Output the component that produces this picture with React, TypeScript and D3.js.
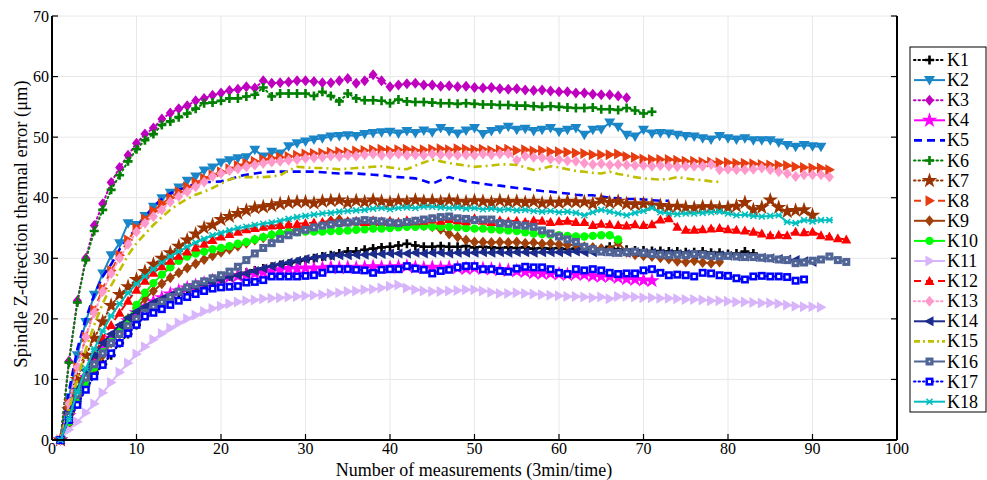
import React, { useEffect, useRef } from 'react';
import * as d3 from 'd3';

// series values, x = 1, 2, 3, ... (measurement number)
const seriesNames = ['K1', 'K2', 'K3', 'K4', 'K5', 'K6', 'K7', 'K8', 'K9', 'K10', 'K11', 'K12', 'K13', 'K14', 'K15', 'K16', 'K17', 'K18'];

const k1 = [0, 3.5, 6.5, 9, 11, 12.5, 14, 16, 17.5, 19, 20.5, 21.5, 22.5, 23.5, 24.3, 25, 25.5, 26, 26.3, 26.6, 27, 27.3, 27.6, 28, 28.3, 28.6, 28.9, 29.1, 29.4, 29.7, 30, 30.3, 30.5, 30.8, 31.1, 31.1, 31.4, 31.6, 31.8, 31.9, 32.1, 32.4, 32.1, 31.9, 31.9, 32, 31.9, 31.9, 32, 31.8, 31.9, 31.8, 31.7, 31.8, 31.7, 31.8, 31.6, 31.7, 31.6, 31.7, 31.5, 31.6, 31.5, 31.6, 31.5, 31.9, 31.5, 31.4, 31.3, 31.3, 31.2, 31.2, 31.1, 31.1, 31, 31, 31.1, 30.9, 30.9, 30.7, 30.8, 31.1, 30.8];
const k2 = [0, 7, 14, 19.5, 24, 27.5, 30.5, 32.5, 35.8, 35.5, 37, 38.5, 39.9, 40.8, 41.7, 42.8, 43.5, 44.5, 45, 45.8, 46.2, 46.5, 46.7, 47.9, 46.8, 47.6, 47.3, 48.5, 49, 49.3, 49.6, 49.8, 50.1, 50.2, 50.3, 50.2, 50.5, 50.7, 50.8, 50.9, 50.6, 51, 50.7, 51.1, 50.8, 51.5, 51, 50.6, 51.1, 51.5, 50.5, 51, 51.3, 51.7, 51.2, 51.4, 51, 51.2, 51.5, 50.9, 51.2, 51.5, 50.4, 51.2, 51.3, 52.4, 51.7, 50.4, 50.1, 51.2, 50.6, 50.7, 50.6, 50.4, 50.2, 50.1, 49.8, 49.6, 50.2, 49.8, 49.6, 49.8, 49.5, 49.5, 49.5, 49.1, 48.7, 48.4, 48.7, 48.5, 48.4];
const k3 = [0, 13, 23, 30, 35.4, 39, 42.5, 45, 47, 49, 50.5, 51.5, 53, 54, 54.7, 55.2, 56, 56.4, 56.9, 57.3, 57.7, 57.9, 58.3, 58.1, 59.3, 58.9, 59, 59.1, 59.3, 59.3, 59.2, 59, 59, 59.3, 59.7, 58.9, 59.3, 60.3, 59.3, 58.3, 58.6, 58.8, 58.9, 58.6, 58.6, 58.4, 58.5, 58.3, 58.4, 58.2, 58.1, 58.2, 58, 57.9, 58, 57.8, 57.7, 57.8, 57.6, 57.5, 57.5, 57.3, 57.3, 57.1, 57, 57, 56.8, 56.5];
const k4 = [0, 4, 7.5, 10.3, 12.8, 15, 16.8, 18.3, 19.7, 21, 22, 22.8, 23.5, 24.1, 24.6, 25.1, 25.5, 25.9, 26.3, 26.6, 26.9, 27.1, 27.3, 27.5, 27.7, 27.9, 28.1, 28.3, 28.3, 28.4, 28.3, 28.4, 28.5, 28.4, 28.5, 28.4, 28.5, 28.6, 28.5, 28.5, 28.6, 28.7, 28.5, 28.4, 28.5, 28.4, 28.5, 28.4, 28.3, 28.4, 28.3, 28.2, 28.1, 28, 27.9, 27.8, 27.6, 27.5, 27.5, 27.4, 27.3, 27.4, 27.3, 27.1, 27, 27, 26.8, 26.6, 26.5, 26.4, 26.3];
const k5 = [0, 8, 15, 20, 24, 27, 29, 31.5, 33.3, 35, 36.8, 38.5, 39.8, 40.7, 41.3, 41.8, 42.3, 42.6, 42.6, 42.7, 43, 43.5, 43.8, 44, 44.2, 44.3, 44.3, 44.3, 44.3, 44.3, 44.3, 44.2, 44.1, 44, 44.1, 44, 43.9, 43.8, 43.7, 43.5, 43.4, 43.3, 43.2, 42.8, 42.3, 42.9, 43.4, 43, 42.7, 42.5, 42.3, 42.1, 42, 41.8, 41.6, 41.5, 41.3, 41.1, 41, 40.8, 40.7, 40.5, 40.4, 40.4, 40.2, 40, 39.9, 39.8, 39.8, 39.7, 39.6, 39.5, 39.5];
const k6 = [0, 12.8, 22.7, 29.7, 34.5, 38, 41.3, 43.7, 46, 48, 49.5, 50.5, 52, 52.6, 53.3, 53.9, 54.7, 55.6, 55.7, 56, 56.4, 56.4, 56.7, 57, 58.2, 56.7, 57.2, 57.2, 57.2, 57.2, 56.8, 57.5, 56.8, 55.9, 57.2, 56.4, 56.1, 56.1, 56, 55.6, 56.2, 55.9, 55.8, 55.8, 55.7, 55.6, 55.6, 55.5, 55.6, 55.5, 55.4, 55.4, 55.3, 55.3, 55.2, 55.2, 55.1, 55, 55.1, 55, 54.9, 54.8, 54.8, 54.9, 54.6, 54.6, 54.5, 54.8, 54.4, 53.9, 54.2];
const k7 = [0, 5, 10, 14, 16.8, 19.5, 22.2, 24, 25.3, 26.5, 27.8, 29, 30, 30.9, 32, 33, 34, 35, 35.5, 36.4, 36.9, 37.4, 37.9, 38.3, 38.5, 38.7, 39, 39.2, 39.3, 39.3, 39.1, 39.4, 39.5, 39.6, 39.2, 39.5, 39.3, 39.6, 39.4, 39.2, 39.5, 39.3, 39.6, 39.4, 39.5, 39.3, 39.6, 39.4, 39.3, 39.5, 39.4, 39.2, 39.5, 39.3, 39.4, 39.2, 39.4, 39.1, 39.3, 39.2, 39.4, 39.3, 39.3, 39, 39.6, 39.2, 39.4, 39, 38.9, 39, 38.8, 38.7, 38.5, 38.6, 38.4, 38.3, 38.5, 38.5, 38.3, 38.4, 38.6, 39.2, 38, 38.4, 39.6, 38.4, 37.7, 37.9, 38, 37.1];
const k8 = [0, 6, 12, 17, 21.5, 25, 28, 30.5, 33, 35, 36.5, 37.8, 39, 40, 41, 41.8, 42.5, 43.2, 43.8, 44.3, 44.8, 45.3, 45.7, 46, 46.3, 46.5, 46.7, 46.8, 47, 47.2, 47.3, 47.4, 47.5, 47.6, 47.5, 47.7, 47.8, 47.9, 48, 47.8, 47.9, 48, 47.8, 47.9, 48, 48.1, 47.9, 48.1, 48, 47.9, 48, 47.8, 47.9, 48, 47.8, 47.9, 47.7, 47.8, 47.6, 47.6, 47.5, 47.4, 47.3, 47.1, 47.1, 47.1, 47.2, 46.8, 46.7, 46.4, 46.3, 46.3, 46.3, 46.2, 46, 46, 45.9, 45.9, 45.8, 45.8, 45.7, 45.7, 45.6, 45.5, 45.4, 45.4, 45.3, 45.1, 45, 44.9, 44.9, 44.6];
const k9 = [0, 2.5, 6, 9, 11.5, 14, 16, 18, 20, 21.8, 23.3, 24.6, 25.8, 26.8, 27.6, 28.4, 29.1, 29.8, 30.4, 31, 31.5, 32, 32.5, 33, 33.4, 33.8, 34.2, 34.5, 34.8, 35, 35.3, 35.6, 36.2, 36.4, 36, 35.8, 35.6, 35.5, 35.6, 35.5, 35.4, 35.5, 35.5, 35.4, 35.2, 34.8, 34, 33.5, 33, 32.7, 32.7, 32.6, 32.7, 32.6, 32.7, 32.5, 32.6, 32.4, 32.5, 32.3, 32.2, 32.2, 31.9, 31.8, 31.6, 31.4, 32.6, 31, 30.6, 30.4, 30.3, 30.1, 29.9, 29.5, 29.4, 29.6, 29.3, 29.2, 29.4];
const k10 = [0, 3, 6.5, 9.5, 12, 14.5, 16.2, 18, 20, 22.3, 24.3, 25.9, 27.3, 28.5, 29.6, 30.3, 30.8, 31.1, 31.5, 31.7, 32, 32.4, 32.7, 33.1, 33.5, 33.9, 34.1, 34.3, 34.3, 34.4, 34.4, 34.4, 34.5, 34.5, 34.6, 34.7, 34.8, 34.9, 34.9, 35, 35.1, 35.2, 35.2, 35.3, 35.2, 35.2, 35.2, 35.1, 35, 34.9, 34.9, 34.8, 34.7, 34.6, 34.5, 34.3, 34.1, 34, 33.9, 33.8, 33.7, 33.6, 33.6, 33.7, 33.8, 33.8, 33.1];
const k11 = [0, 1.7, 3, 4.5, 6, 7.8, 9.5, 11.2, 12.7, 14.2, 15.4, 16.6, 17.6, 18.5, 19.3, 20, 20.6, 21.2, 21.7, 22.1, 22.5, 22.8, 23, 23.1, 23.3, 23.4, 23.5, 23.6, 23.7, 23.8, 23.9, 24, 24.2, 24.3, 24.5, 24.6, 24.8, 24.9, 25.1, 25.4, 25.6, 25.1, 24.8, 24.6, 24.5, 24.5, 24.6, 24.7, 24.8, 24.8, 24.6, 24.4, 24.2, 24.2, 24.3, 24.2, 24.1, 24, 23.9, 23.8, 23.7, 23.7, 23.6, 23.5, 23.6, 23.3, 23.7, 23.7, 23.6, 23.5, 23.5, 23.4, 23.4, 23.3, 23.2, 23.2, 23.1, 23, 23, 22.9, 22.8, 22.8, 22.7, 22.6, 22.6, 22.5, 22.3, 22.1, 22, 22, 21.9];
const k12 = [0, 3.5, 7.5, 11, 14, 16.8, 19, 21, 23, 24.8, 26.3, 27.6, 28.7, 29.6, 30.4, 31.1, 31.8, 32.4, 33, 33.6, 34, 34.4, 34.8, 35, 35.2, 35.4, 35.5, 35.6, 35.7, 35.8, 35.9, 36, 36.2, 36, 36.1, 36.2, 36, 36.3, 36.1, 36.2, 36, 36.3, 36.1, 36.2, 36.4, 36.2, 36.5, 36.3, 36.1, 36.6, 36.2, 36, 36.3, 36.1, 36.2, 36, 36.3, 36.2, 36, 36.1, 36.2, 36, 36, 35.5, 35.7, 35.6, 35.5, 35.4, 35.6, 35.5, 35.6, 36.4, 36.6, 35.2, 34.7, 34.7, 34.8, 34.9, 35, 34.8, 34.7, 34.6, 34.4, 34.1, 33.8, 33.9, 33.8, 34.4, 34.3, 34.4, 33.8, 33.6, 33.3, 33.1];
const k13 = [0, 6, 12, 17, 21, 24.5, 27.5, 30, 32.3, 34.4, 35.8, 36.9, 38, 39.3, 40.2, 41, 41.8, 42.6, 43.5, 44, 44.5, 44.8, 45.1, 45.4, 45.7, 45.9, 46, 46.2, 46.3, 46.5, 46.6, 46.7, 46.9, 46.8, 47, 46.9, 47.1, 47.2, 47, 47.1, 47.2, 47, 47.1, 47, 47.2, 47.1, 47.1, 47, 47.1, 47, 47.2, 47.1, 47.2, 47.3, 46.2, 46.9, 46.7, 46.6, 46.4, 46.3, 46.1, 46, 45.7, 45.5, 45.6, 45.4, 45.5, 45.4, 45.3, 45.3, 45.2, 45.3, 45.2, 45.1, 45.2, 45.2, 45.2, 45.5, 44.6, 44.7, 44.6, 44.6, 44.7, 44.9, 44.6, 44.3, 44, 43.5, 43.8, 43.8, 43.8, 43.4];
const k14 = [0, 4.5, 8.5, 11.5, 14, 16, 17.5, 19, 20.2, 21.2, 22, 22.7, 23.3, 23.9, 24.4, 24.9, 25.3, 25.7, 26.1, 26.5, 26.9, 27.2, 27.5, 27.9, 28.3, 28.7, 29, 29.3, 29.6, 29.9, 30.1, 30.3, 30.4, 30.5, 30.5, 30.6, 30.6, 30.7, 30.7, 30.8, 30.8, 30.8, 30.9, 30.8, 30.9, 30.9, 30.8, 30.9, 30.9, 30.9, 31, 30.9, 31, 30.9, 31, 31, 30.9, 31, 31, 31, 31, 31.1, 31, 31, 31.1, 31, 31, 30.9, 31, 30.9, 30.9, 30.8, 30.8, 30.7, 30.7, 30.6, 30.6, 30.5, 30.5, 30.4, 30.3, 30.3, 30.2, 30.1, 30, 29.9, 29.8, 29.7, 29.5, 29.4];
const k15 = [0, 5, 10, 15, 19, 22.5, 25.5, 28, 30.5, 32.5, 34, 35.5, 36.8, 38, 39, 39.8, 40.5, 41, 41.6, 42.3, 43, 43.4, 43.4, 43.4, 43.4, 43.5, 43.7, 44.5, 45.1, 45, 44.9, 44.9, 44.8, 44.7, 44.8, 44.9, 45, 45.1, 45.2, 45, 44.8, 44.7, 45.3, 45.8, 46.3, 46, 45.7, 45.5, 45.3, 45.1, 45.2, 45.3, 45.5, 45.5, 45.4, 45, 44.6, 44.8, 45.2, 45, 44.7, 44.4, 44.3, 44.1, 44, 44.3, 43.9, 43.7, 43.4, 43.2, 43.1, 43, 43.1, 43.4, 43.2, 43, 42.9, 42.7, 42.6];
const k16 = [0, 4, 7.5, 10.3, 12.5, 14.3, 16, 17.5, 18.8, 20, 21, 22, 22.8, 23.6, 24.5, 25.2, 25.7, 26.2, 26.7, 27.2, 27.8, 28.6, 29.7, 30.8, 31.7, 32.5, 33.2, 33.8, 34.3, 34.7, 35.1, 35.4, 35.6, 35.8, 35.9, 36.1, 36.3, 36.2, 36.1, 35.9, 35.8, 36, 36.2, 36.4, 36.6, 36.8, 36.9, 36.6, 36.5, 36.3, 36.4, 36.4, 35.8, 35.7, 35.5, 35.4, 35.2, 34.6, 34.1, 33.6, 33.1, 32.7, 31.9, 31.5, 31.1, 31, 30.9, 31, 31.1, 30.9, 30.7, 30.6, 30.5, 30.6, 30.5, 30.7, 30.6, 30.4, 30.3, 30.4, 30.3, 30.2, 30.2, 30.1, 30, 29.8, 29.7, 29.2, 29.3, 29.6, 29.8, 30.3, 29.7, 29.4];
const k17 = [0, 3.3, 5.8, 8.3, 10.5, 12.4, 14.3, 16, 17.6, 19, 20.4, 21, 21.6, 22.3, 23, 23.6, 24.1, 24.6, 25, 25.2, 25.3, 25.4, 26, 26.1, 26.4, 27, 27, 27, 27, 27.1, 27.2, 27.6, 28.2, 28.2, 28.2, 28.1, 28, 27.6, 28.1, 28.2, 28.2, 28.7, 28.3, 28.1, 27.5, 27.9, 28.1, 28.5, 28.7, 28.7, 28.2, 28.2, 27.9, 27.8, 28.3, 28.6, 28.5, 28.5, 28.2, 27.6, 27.4, 28.2, 28, 28.2, 28, 27.6, 27.4, 27.5, 27.5, 28, 28.2, 27.6, 27.2, 27.3, 27.2, 27, 27.6, 27.5, 27.2, 27.1, 26.7, 26.5, 27, 27.1, 27, 27, 26.9, 26.3, 26.5];
const k18 = [0, 3.5, 8, 11.8, 15, 18, 20.5, 22.5, 24.3, 25.8, 27, 28.2, 29.3, 30.3, 31.1, 31.9, 32.6, 33.2, 33.8, 34.2, 34.6, 35, 35.2, 35.5, 35.7, 35.9, 36.2, 36.5, 36.8, 37, 37.2, 37.4, 37.5, 37.7, 37.8, 37.9, 38, 38.2, 38.3, 38.1, 38.3, 38.4, 38.3, 38.5, 38.5, 38.4, 38.3, 38.4, 38.2, 38.3, 38.1, 38.2, 38, 38.1, 37.9, 38, 37.8, 37.7, 37.8, 37.6, 37.7, 37.5, 37.1, 37.6, 38, 37.7, 37.4, 37.1, 37.5, 37.8, 38.3, 37.6, 37.4, 37.3, 37.4, 37.4, 37.5, 37.6, 37.7, 37.4, 37.1, 37.2, 37, 36.9, 37, 37.1, 36, 35.8, 36.3, 36.1, 36.3, 36.3];

const seriesValues = [k1, k2, k3, k4, k5, k6, k7, k8, k9, k10, k11, k12, k13, k14, k15, k16, k17, k18];

const xTicks = [0, 10, 20, 30, 40, 50, 60, 70, 80, 90, 100];
const yTicks = [0, 10, 20, 30, 40, 50, 60, 70];

// line colour, dash pattern and marker kind for each series
const seriesStyles = [
  { color: '#000000', dash: '1.5,3', marker: 'plus' },
  { color: '#1a86c8', dash: null, marker: 'down' },
  { color: '#bf00bf', dash: '1.5,3', marker: 'diamond' },
  { color: '#ff00ff', dash: null, marker: 'star' },
  { color: '#0000ff', dash: '8,5', marker: null },
  { color: '#008000', dash: '1.5,3', marker: 'plus' },
  { color: '#993300', dash: '1.5,3', marker: 'star' },
  { color: '#e63c10', dash: '7,5', marker: 'right' },
  { color: '#a0400a', dash: null, marker: 'diamond' },
  { color: '#00ff00', dash: null, marker: 'circle' },
  { color: '#d8b4fa', dash: null, marker: 'right' },
  { color: '#ff0000', dash: '7,5', marker: 'up' },
  { color: '#ff99cc', dash: '1.5,3', marker: 'diamond' },
  { color: '#1c2c8c', dash: null, marker: 'left' },
  { color: '#bfbf00', dash: '8,4,2,4', marker: null },
  { color: '#506496', dash: null, marker: 'square' },
  { color: '#0000ff', dash: '1.5,3', marker: 'squareHollow' },
  { color: '#00bfbf', dash: null, marker: 'asterisk' },
];

const FONT = '"Liberation Serif", "Times New Roman", serif';

function drawMarker(g, kind, color, x, y) {
  const t = `translate(${x},${y})`;
  switch (kind) {
    case 'plus':
      g.append('path').attr('transform', t)
        .attr('d', 'M-4.5,0L4.5,0M0,-4.5L0,4.5')
        .attr('stroke', color).attr('stroke-width', 2.6).attr('fill', 'none');
      break;
    case 'down':
      g.append('path').attr('transform', t).attr('d', 'M-5.5,-4L5.5,-4L0,5.5Z').attr('fill', color);
      break;
    case 'up':
      g.append('path').attr('transform', t).attr('d', 'M-5,4L5,4L0,-5Z').attr('fill', color);
      break;
    case 'right':
      g.append('path').attr('transform', t).attr('d', 'M-4,-5.5L-4,5.5L5.5,0Z').attr('fill', color);
      break;
    case 'left':
      g.append('path').attr('transform', t).attr('d', 'M4,-5L4,5L-5.5,0Z').attr('fill', color);
      break;
    case 'diamond':
      g.append('path').attr('transform', t).attr('d', 'M0,-5.5L4.5,0L0,5.5L-4.5,0Z').attr('fill', color);
      break;
    case 'star':
      g.append('path').attr('transform', t).attr('d', d3.symbol(d3.symbolStar, 75)()).attr('fill', color);
      break;
    case 'circle':
      g.append('circle').attr('cx', x).attr('cy', y).attr('r', 4.2).attr('fill', color);
      break;
    case 'square':
      g.append('rect').attr('x', x - 4).attr('y', y - 4).attr('width', 8).attr('height', 8).attr('fill', color);
      g.append('rect').attr('x', x - 0.8).attr('y', y - 0.8).attr('width', 1.6).attr('height', 1.6).attr('fill', '#ffffff');
      break;
    case 'squareHollow':
      g.append('rect').attr('x', x - 4).attr('y', y - 4).attr('width', 8).attr('height', 8).attr('fill', color);
      g.append('rect').attr('x', x - 1.5).attr('y', y - 1.5).attr('width', 3).attr('height', 3).attr('fill', '#ffffff');
      break;
    case 'asterisk':
      g.append('path').attr('transform', t)
        .attr('d', 'M-3,-3L3,3M-3,3L3,-3M-3.5,0L3.5,0')
        .attr('stroke', color).attr('stroke-width', 1.6).attr('fill', 'none');
      break;
    default:
      break;
  }
}

function ThermalChart() {
  const svgRef = useRef(null);

  useEffect(() => {
    const svg = d3.select(svgRef.current);
    svg.selectAll('*').remove();

    const left = 52;
    const right = 897;
    const top = 16;
    const bottom = 440;

    const x = d3.scaleLinear().domain([0, 100]).range([left, right]);
    const y = d3.scaleLinear().domain([0, 70]).range([bottom, top]);

    // grid
    const grid = svg.append('g');
    xTicks.forEach(t => {
      grid.append('line').attr('x1', x(t)).attr('x2', x(t)).attr('y1', top).attr('y2', bottom)
        .attr('stroke', '#e8e8e8').attr('stroke-width', 1);
    });
    yTicks.forEach(t => {
      grid.append('line').attr('x1', left).attr('x2', right).attr('y1', y(t)).attr('y2', y(t))
        .attr('stroke', '#e8e8e8').attr('stroke-width', 1);
    });

    // series
    const plot = svg.append('g');
    seriesValues.forEach((vals, si) => {
      const st = seriesStyles[si];
      const line = d3.line().x((d, i) => x(i + 1)).y(d => y(d));
      plot.append('path')
        .attr('d', line(vals))
        .attr('fill', 'none')
        .attr('stroke', st.color)
        .attr('stroke-width', st.marker ? 2 : 2.6)
        .attr('stroke-linecap', st.dash === '1.5,3' ? 'round' : 'butt')
        .attr('stroke-dasharray', st.dash);
      if (st.marker) {
        const mg = plot.append('g');
        vals.forEach((v, i) => drawMarker(mg, st.marker, st.color, x(i + 1), y(v)));
      }
    });

    // axes
    const axes = svg.append('g').attr('stroke', '#000');
    axes.append('line').attr('x1', left).attr('x2', left).attr('y1', top).attr('y2', bottom).attr('stroke-width', 2);
    axes.append('line').attr('x1', left).attr('x2', right).attr('y1', bottom).attr('y2', bottom).attr('stroke-width', 2);
    axes.append('line').attr('x1', right).attr('x2', right).attr('y1', top).attr('y2', bottom).attr('stroke-width', 2);
    xTicks.forEach(t => {
      axes.append('line').attr('x1', x(t)).attr('x2', x(t)).attr('y1', bottom).attr('y2', bottom - 6).attr('stroke-width', 1.2);
    });
    yTicks.forEach(t => {
      axes.append('line').attr('x1', left).attr('x2', left + 6).attr('y1', y(t)).attr('y2', y(t)).attr('stroke-width', 1.2);
      axes.append('line').attr('x1', right).attr('x2', right - 6).attr('y1', y(t)).attr('y2', y(t)).attr('stroke-width', 1.2);
    });

    const labels = svg.append('g').attr('font-family', FONT).attr('fill', '#000');
    xTicks.forEach(t => {
      labels.append('text').attr('x', x(t)).attr('y', bottom + 14).attr('text-anchor', 'middle')
        .attr('font-size', 16).text(t);
    });
    yTicks.forEach(t => {
      labels.append('text').attr('x', left - 3).attr('y', y(t) + 5.5).attr('text-anchor', 'end')
        .attr('font-size', 16).text(t);
    });
    labels.append('text').attr('x', 474).attr('y', 476).attr('text-anchor', 'middle')
      .attr('font-size', 18).text('Number of measurements (3min/time)');
    labels.append('text').attr('transform', 'translate(27,224) rotate(-90)').attr('text-anchor', 'middle')
      .attr('font-size', 18.5).text('Spindle Z-direction thermal error (μm)');

    // legend
    const lg = svg.append('g');
    lg.append('rect').attr('x', 910).attr('y', 47).attr('width', 76).attr('height', 365)
      .attr('fill', '#fff').attr('stroke', '#000').attr('stroke-width', 1);
    seriesNames.forEach((name, i) => {
      const st = seriesStyles[i];
      const ly = 60 + i * 20.1;
      lg.append('line').attr('x1', 914).attr('x2', 945).attr('y1', ly).attr('y2', ly)
        .attr('stroke', st.color).attr('stroke-width', st.marker ? 2 : 2.6)
        .attr('stroke-linecap', st.dash === '1.5,3' ? 'round' : 'butt')
        .attr('stroke-dasharray', st.dash === '8,4,2,4' ? '6,3,2,3' : st.dash);
      if (st.marker) drawMarker(lg, st.marker, st.color, 929.5, ly);
      lg.append('text').attr('x', 947).attr('y', ly + 6).attr('font-family', FONT)
        .attr('font-size', 18).text(name);
    });
  }, []);

  return <svg ref={svgRef} width={987} height={480} style={{ display: 'block' }} />;
}

export default function App() {
  return (
    <div style={{ position: 'absolute', left: 0, top: 0, background: '#fff' }}>
      <ThermalChart />
    </div>
  );
}
